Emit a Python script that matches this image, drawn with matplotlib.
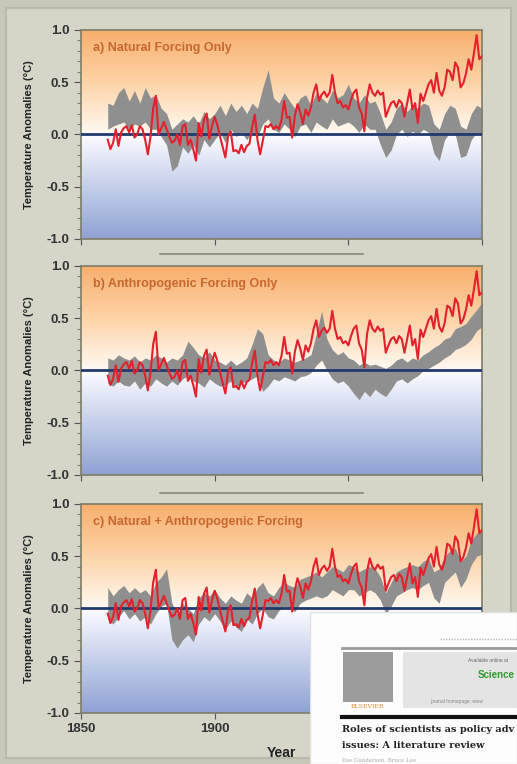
import numpy as np
import matplotlib.pyplot as plt
from matplotlib.colors import LinearSegmentedColormap
from matplotlib.patches import Rectangle
from matplotlib.lines import Line2D

# observed annual temperature anomalies (red line), 1860-2000
years = np.arange(1860, 2001)
obs = [-0.05, -0.14, -0.08, 0.05, -0.11, 0.02, 0.06, 0.08, 0.02, 0.09,
       -0.03, 0.00, 0.08, 0.05, -0.05, -0.19, -0.02, 0.25, 0.37, 0.00,
       0.06, 0.12, 0.05, -0.02, -0.08, -0.06, 0.00, -0.10, 0.08, 0.10,
       -0.10, -0.05, -0.14, -0.25, 0.11, -0.02, 0.14, 0.20, -0.04, 0.08,
       0.17, 0.09, -0.02, -0.12, -0.22, -0.02, 0.03, -0.16, -0.15, -0.18,
       -0.10, -0.17, -0.11, -0.09, 0.07, 0.19, -0.05, -0.19, -0.06, 0.08,
       0.07, 0.10, 0.05, 0.08, 0.05, 0.14, 0.32, 0.16, 0.17, -0.03,
       0.18, 0.29, 0.21, 0.10, 0.24, 0.18, 0.26, 0.40, 0.48, 0.32,
       0.38, 0.41, 0.36, 0.40, 0.57, 0.40, 0.30, 0.32, 0.26, 0.28,
       0.24, 0.33, 0.40, 0.43, 0.26, 0.20, 0.03, 0.35, 0.48, 0.40,
       0.37, 0.42, 0.38, 0.40, 0.17, 0.24, 0.30, 0.32, 0.26, 0.33,
       0.30, 0.17, 0.30, 0.43, 0.24, 0.30, 0.11, 0.39, 0.32, 0.40,
       0.48, 0.52, 0.40, 0.59, 0.42, 0.37, 0.45, 0.62, 0.60, 0.52,
       0.69, 0.64, 0.45, 0.49, 0.58, 0.72, 0.62, 0.78, 0.95, 0.72,
       0.75]

# model ensemble ranges (grey bands), every 2 years 1860-2000
band_years = np.arange(1860, 2001, 2)
nat_hi = [0.30, 0.28, 0.40, 0.45, 0.32, 0.42, 0.30, 0.45, 0.35, 0.38,
          0.25, 0.20, 0.05, 0.10, 0.15, 0.12, 0.18, 0.10, 0.22, 0.15,
          0.20, 0.28, 0.18, 0.30, 0.22, 0.28, 0.20, 0.30, 0.25, 0.45,
          0.62, 0.35, 0.30, 0.40, 0.32, 0.25, 0.35, 0.38, 0.28, 0.40,
          0.35, 0.30, 0.42, 0.35, 0.38, 0.48, 0.35, 0.30, 0.38, 0.30,
          0.32, 0.20, 0.05, 0.12, 0.25, 0.30, 0.22, 0.28, 0.25, 0.30,
          0.28, 0.10, 0.05, 0.20, 0.28, 0.25, 0.08, 0.05, 0.20, 0.28,
          0.25]
nat_lo = [0.05, 0.08, 0.10, 0.12, 0.05, 0.10, 0.08, 0.12, 0.05, 0.05,
          -0.02, -0.10, -0.35, -0.30, -0.12, -0.18, -0.10, -0.20, -0.05, -0.12,
          -0.05, 0.02, -0.08, 0.05, -0.02, 0.02, -0.05, 0.02, -0.02, 0.10,
          0.15, 0.05, 0.02, 0.10, 0.05, -0.02, 0.08, 0.10, 0.02, 0.12,
          0.08, 0.05, 0.15, 0.08, 0.10, 0.12, 0.08, 0.02, 0.10, 0.05,
          0.05, -0.10, -0.22, -0.15, 0.00, 0.05, -0.02, 0.03, 0.00, 0.05,
          0.02, -0.18, -0.25, -0.05, 0.02, 0.00, -0.22, -0.20, -0.05, 0.02,
          -0.02]
ant_hi = [0.12, 0.10, 0.15, 0.12, 0.10, 0.14, 0.08, 0.12, 0.10, 0.15,
          0.12, 0.08, 0.12, 0.10, 0.15, 0.28, 0.22, 0.15, 0.12, 0.18,
          0.10, 0.08, 0.05, 0.10, 0.05, 0.08, 0.12, 0.25, 0.40, 0.35,
          0.15, 0.10, 0.08, 0.12, 0.10, 0.08, 0.10, 0.12, 0.15, 0.35,
          0.57, 0.30, 0.20, 0.15, 0.18, 0.12, 0.10, 0.05, 0.08, 0.05,
          0.06, 0.04, 0.02, 0.05, 0.10, 0.12, 0.08, 0.12, 0.10, 0.15,
          0.18, 0.22, 0.25, 0.30, 0.32, 0.40, 0.42, 0.45, 0.52, 0.58,
          0.65]
ant_lo = [-0.12, -0.15, -0.10, -0.14, -0.15, -0.10, -0.18, -0.12, -0.15, -0.08,
          -0.12, -0.15, -0.10, -0.14, -0.08, -0.05, -0.10, -0.12, -0.16, -0.08,
          -0.12, -0.15, -0.14, -0.10, -0.16, -0.12, -0.10, -0.08, -0.05, -0.20,
          -0.15, -0.08, -0.10, -0.06, -0.08, -0.10, -0.06, -0.05, -0.02, 0.05,
          0.10, 0.00, -0.08, -0.12, -0.10, -0.15, -0.22, -0.28, -0.20, -0.25,
          -0.18, -0.22, -0.25, -0.18, -0.10, -0.08, -0.12, -0.08, -0.05, 0.00,
          0.02, 0.05, 0.08, 0.12, 0.15, 0.20, 0.22, 0.25, 0.30, 0.38,
          0.42]
all_hi = [0.20, 0.12, 0.18, 0.22, 0.15, 0.20, 0.15, 0.18, 0.12, 0.25,
          0.30, 0.38, 0.05, -0.05, 0.05, 0.00, -0.05, 0.10, 0.15, 0.12,
          0.18, 0.10, 0.05, 0.12, 0.08, 0.05, 0.15, 0.10, 0.20, 0.25,
          0.15, 0.12, 0.20, 0.25, 0.22, 0.20, 0.28, 0.30, 0.32, 0.35,
          0.30, 0.35, 0.40, 0.38, 0.35, 0.42, 0.40, 0.35, 0.38, 0.40,
          0.38, 0.30, 0.15, 0.25, 0.35, 0.38, 0.40, 0.42, 0.40, 0.45,
          0.48, 0.35, 0.38, 0.50, 0.55, 0.58, 0.45, 0.50, 0.65, 0.72,
          0.75]
all_lo = [-0.10, -0.15, -0.08, -0.02, -0.10, -0.05, -0.12, -0.08, -0.15, -0.05,
          0.02, 0.05, -0.30, -0.38, -0.30, -0.25, -0.32, -0.15, -0.08, -0.12,
          -0.05, -0.12, -0.20, -0.12, -0.18, -0.22, -0.10, -0.15, -0.05, 0.00,
          -0.08, -0.10, -0.02, 0.02, 0.00, -0.03, 0.05, 0.08, 0.10, 0.12,
          0.10, 0.12, 0.18, 0.15, 0.12, 0.18, 0.18, 0.12, 0.15, 0.18,
          0.15, 0.08, -0.05, 0.02, 0.12, 0.15, 0.18, 0.20, 0.18, 0.22,
          0.25, 0.10, 0.05, 0.25, 0.30, 0.35, 0.20, 0.28, 0.42, 0.50,
          0.52]

titles = ["a) Natural Forcing Only",
          "b) Anthropogenic Forcing Only",
          "c) Natural + Anthropogenic Forcing"]
bands = [(nat_lo, nat_hi), (ant_lo, ant_hi), (all_lo, all_hi)]
xtick_years = [1850, 1900, 1950, 2000]
xtick_text = ['1850', '1900', '', '']   # the last two sit under the page snippet

plt.rcParams['font.family'] = ['Liberation Sans', 'DejaVu Sans']

fig = plt.figure(figsize=(5.17, 7.64), dpi=100, facecolor='#c7c8b8')
fig.add_artist(Rectangle((0.012, 0.008), 0.976, 0.982, transform=fig.transFigure,
                         facecolor='#d5d6c7', edgecolor='#b8b9aa', lw=1.5, zorder=-5))

bg = LinearSegmentedColormap.from_list('bg', [(0.0, '#8ea2d3'), (0.25, '#c5cfea'),
                                              (0.49, '#fbfbff'), (0.52, '#fff6ec'),
                                              (0.75, '#fdd3a6'), (1.0, '#f8ae6c')])
grad = np.linspace(0, 1, 256).reshape(-1, 1)

bottoms = [0.6872, 0.3783, 0.0668]
for i in range(3):
    ax = fig.add_axes([0.1567, bottoms[i], 0.7756, 0.2736])
    ax.imshow(grad, extent=[1850, 2000, -1, 1], origin='lower', aspect='auto',
              cmap=bg, zorder=0)
    lo, hi = bands[i]
    ax.fill_between(band_years, lo, hi, color='#8f8f8f', lw=0, zorder=2)
    ax.axhline(0, color='#1f3b6e', lw=2, zorder=3)
    ax.plot(years, obs, color='#e3202b', lw=1.5, zorder=4)
    ax.set_xlim(1850, 2000)
    ax.set_ylim(-1, 1)
    ax.set_yticks([-1, -0.5, 0, 0.5, 1])
    ax.set_yticklabels(['-1.0', '-0.5', '0.0', '0.5', '1.0'])
    ax.set_yticks(np.arange(-1, 1.01, 0.1), minor=True)
    ax.set_xticks(xtick_years)
    ax.tick_params(axis='y', which='major', length=5, color='#555', labelsize=9.5,
                   labelcolor='#333')
    ax.tick_params(axis='y', which='minor', length=3, color='#666')
    ax.tick_params(axis='x', length=4, color='#555', labelsize=9.5, labelcolor='#333')
    if i < 2:
        ax.set_xticklabels([])
    else:
        ax.set_xticklabels(xtick_text)
    for t in ax.get_yticklabels() + ax.get_xticklabels():
        t.set_fontweight('bold')
    for s in ax.spines.values():
        s.set_color('#7d7d68')
        s.set_linewidth(1.2)
    ax.set_ylabel('Temperature Anomalies (°C)', fontsize=8, fontweight='bold',
                  color='#222', labelpad=9)
    ax.text(0.03, 0.94, titles[i], transform=ax.transAxes, va='top', ha='left',
            fontsize=9, fontweight='bold', color='#c8672e', zorder=5)
    if i == 2:
        ax.set_xlabel('Year', fontsize=10, fontweight='bold', color='#222',
                      labelpad=8)

# separator lines between panels
for yl in [1 - 254 / 764, 1 - 493 / 764]:
    fig.add_artist(Line2D([160 / 517, 363 / 517], [yl, yl], color='#8a8a7a', lw=1.2))

# overlaid journal page snippet
ins = fig.add_axes([310 / 517, 0, 207 / 517, 152 / 764])
ins.set_xlim(310, 517)
ins.set_ylim(764, 612)
ins.axis('off')
ins.add_patch(Rectangle((310, 612), 207, 152, facecolor='#fdfdfd', edgecolor='#e0e0e0', lw=1))
ins.plot([440, 517], [639, 639], color='#b8b8c0', lw=1, ls=(0, (1, 1)))
ins.plot([342, 517], [648, 648], color='#9a9a9a', lw=2)
ins.add_patch(Rectangle((343, 652), 50, 50, facecolor='#9c9c9c', edgecolor='none'))
ins.text(368, 707, 'ELSEVIER', fontsize=4.5, color='#e08a30', ha='center', va='center',
         family='DejaVu Serif')
ins.add_patch(Rectangle((403, 652), 114, 56, facecolor='#e4e4e4', edgecolor='none'))
ins.text(468, 661, 'Available online at', fontsize=3.5, color='#666', va='center')
ins.text(478, 675, 'Science', fontsize=7, color='#2f9a2f', fontweight='bold', va='center')
ins.text(430, 702, 'journal homepage: www', fontsize=3.5, color='#888', va='center')
ins.plot([342, 517], [717, 717], color='#111', lw=3)
ins.text(342, 729, 'Roles of scientists as policy adv', fontsize=7,
         fontweight='bold', family='DejaVu Serif', color='#222', va='center')
ins.text(342, 745, 'issues: A literature review', fontsize=7,
         fontweight='bold', family='DejaVu Serif', color='#222', va='center')
ins.text(342, 760, 'Ilse Gundersen, Bruce Lee', fontsize=4,
         family='DejaVu Serif', color='#aaa', va='center')

fig.savefig('out.png', dpi=100, facecolor=fig.get_facecolor())
